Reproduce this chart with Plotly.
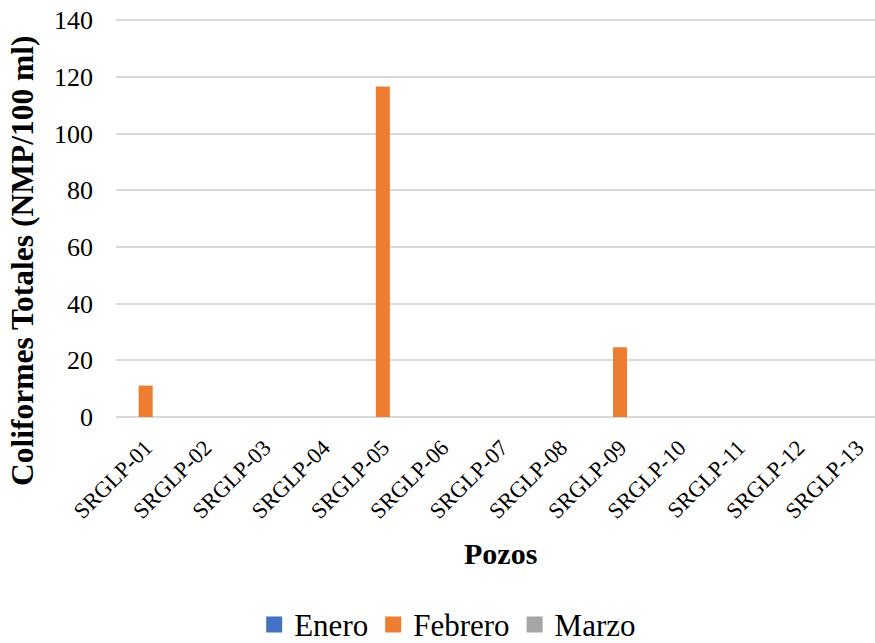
import plotly.graph_objects as go

categories = ["SRGLP-01", "SRGLP-02", "SRGLP-03", "SRGLP-04", "SRGLP-05", "SRGLP-06",
              "SRGLP-07", "SRGLP-08", "SRGLP-09", "SRGLP-10", "SRGLP-11", "SRGLP-12", "SRGLP-13"]
series_names = ["Enero", "Febrero", "Marzo"]
series_colors = ["#4472C4", "#ED7D31", "#A5A5A5"]
enero = [0, 0, 0, 0, 0, 0, 0, 0, 0, 0, 0, 0, 0]
febrero = [11.1, 0, 0, 0, 116.6, 0, 0, 0, 24.6, 0, 0, 0, 0]
marzo = [0, 0, 0, 0, 0, 0, 0, 0, 0, 0, 0, 0, 0]
y_ticks = [0, 20, 40, 60, 80, 100, 120, 140]

FONT = "Liberation Serif, Times New Roman, serif"

fig = go.Figure()
for name, vals, col in zip(series_names, [enero, febrero, marzo], series_colors):
    fig.add_trace(go.Bar(name=name, x=categories, y=vals, marker_color=col,
                         marker_line_width=0, showlegend=False))
# legend entries with larger square swatches
for name, col in zip(series_names, series_colors):
    fig.add_trace(go.Scatter(name=name, x=[None], y=[None], mode="markers",
                             marker=dict(symbol="square", size=16, color=col),
                             showlegend=True))

fig.update_layout(
    width=875, height=643,
    margin=dict(l=116, r=0, t=19, b=226, autoexpand=False),
    paper_bgcolor="white", plot_bgcolor="white",
    barmode="group", bargap=0.29, bargroupgap=0,
    font=dict(family=FONT, color="black"),
    showlegend=True,
    legend=dict(orientation="h", x=0.437, xanchor="center", y=-0.522, yanchor="middle",
                font=dict(size=31, family=FONT), itemwidth=30, traceorder="normal"),
    xaxis=dict(type="category", range=[-0.5, 12.3], tickangle=-45, automargin=False,
               tickfont=dict(size=22.5, family=FONT), showgrid=False, showline=False,
               ticks="", zeroline=False, ticklabelstandoff=12),
    yaxis=dict(range=[0, 140.4], tickvals=y_ticks, tickfont=dict(size=26, family=FONT),
               automargin=False,
               showgrid=True, gridcolor="#D9D9D9", gridwidth=1.5, zeroline=True,
               zerolinecolor="#D9D9D9", zerolinewidth=1.5, showline=False, ticks="",
               ticklabelstandoff=22),
    annotations=[
        dict(text="<b>Pozos</b>", xref="paper", yref="paper", x=0.507, y=-0.342,
             xanchor="center", yanchor="middle", showarrow=False,
             font=dict(size=30, family=FONT, color="black")),
        dict(text="<b>Coliformes Totales (NMP/100 ml)</b>", xref="paper", yref="paper",
             x=-0.1225, y=0.392, xanchor="center", yanchor="middle", textangle=-90,
             showarrow=False, font=dict(size=31.5, family=FONT, color="black")),
    ],
)

fig.write_html("out.html", config={"displayModeBar": False},
               post_script="document.body.style.margin='0';")
